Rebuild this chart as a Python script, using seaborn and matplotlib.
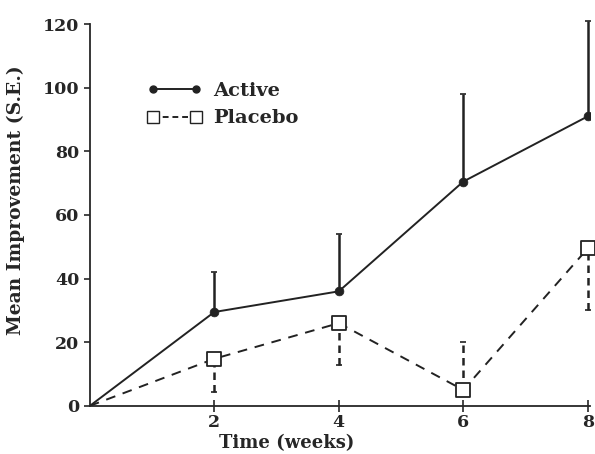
import seaborn as sns
import pandas as pd
import matplotlib.pyplot as plt
from matplotlib.lines import Line2D

weeks = [0, 2, 4, 6, 8]
active = [0, 29.5, 36, 70.5, 91]
active_se = [0, 12.5, 18, 27.5, 30]
placebo = [0, 14.8, 26, 5, 49.5]
placebo_se_low = [0, 10.5, 13, 0, 19.5]
placebo_se_up = [0, 0, 0, 15, 0]

sns.set_style("ticks")
plt.rcParams["font.family"] = ["DejaVu Serif"]
plt.rcParams["font.weight"] = "bold"

fig = plt.figure(figsize=(5.95, 4.54), dpi=100)
ax = fig.add_axes([0.151, 0.106, 0.84, 0.841])

df = pd.DataFrame({"week": weeks, "active": active, "placebo": placebo})

# lines from the origin
sns.lineplot(data=df, x="week", y="active", color="#222222", lw=1.4, ax=ax, zorder=2)
sns.lineplot(data=df, x="week", y="placebo", color="#222222", lw=1.4,
             linestyle=(0, (5, 4)), ax=ax, zorder=2)

# error bars (one side only)
eb = ax.errorbar(weeks[1:], active[1:], yerr=[[0] * 4, active_se[1:]], fmt="none",
                 ecolor="#222222", elinewidth=1.8, capsize=2, capthick=1.2, zorder=1)
eb2 = ax.errorbar(weeks[1:], placebo[1:], yerr=[placebo_se_low[1:], placebo_se_up[1:]],
                  fmt="none", ecolor="#222222", elinewidth=1.8, capsize=2, capthick=1.2, zorder=1)
eb2[2][0].set_linestyle((0, (3, 2)))
for art in list(eb[1]) + list(eb[2]):
    art.set_clip_on(False)

# markers
sns.scatterplot(x=weeks[1:], y=active[1:], color="#222222", s=40, marker="o",
                edgecolor="#222222", ax=ax, zorder=3)
sns.scatterplot(x=weeks[1:], y=placebo[1:], color="white", s=95, marker="s",
                edgecolor="#222222", linewidth=1.3, ax=ax, zorder=3, clip_on=False)

ax.set_xlim(0, 8.03)
ax.set_ylim(0, 120)
ax.set_xticks([2, 4, 6, 8])
ax.set_yticks([0, 20, 40, 60, 80, 100, 120])
ax.tick_params(axis="x", direction="inout", length=8, width=1.2, labelsize=12.5, pad=2)
ax.tick_params(axis="y", direction="out", length=4, width=1.2, labelsize=12.5)
for lab in ax.get_xticklabels() + ax.get_yticklabels():
    lab.set_fontweight("bold")
sns.despine(ax=ax)
ax.spines["left"].set_linewidth(1.3)
ax.spines["bottom"].set_linewidth(1.3)

ax.set_xlabel("Time (weeks)", fontsize=13, fontweight="bold")
ax.set_ylabel("Mean Improvement (S.E.)", fontsize=13.5, fontweight="bold")
ax.xaxis.set_label_coords(0.394, -0.075)
ax.yaxis.set_label_coords(-0.13, 0.54)

handles = [
    Line2D([0], [0], color="#222222", lw=1.4, marker="o", markersize=5),
    Line2D([0], [0], color="#222222", lw=1.4, linestyle=(0, (3, 2)), marker="s",
           markersize=9, markerfacecolor="white", markeredgecolor="#222222"),
]
ax.legend(handles, ["Active", "Placebo"], numpoints=2, frameon=False,
          loc="upper left", bbox_to_anchor=(0.08, 0.895), handlelength=2.8,
          handletextpad=0.6, prop={"size": 14, "weight": "bold"}, labelspacing=0.5)

fig.savefig("out.png", dpi=100)
